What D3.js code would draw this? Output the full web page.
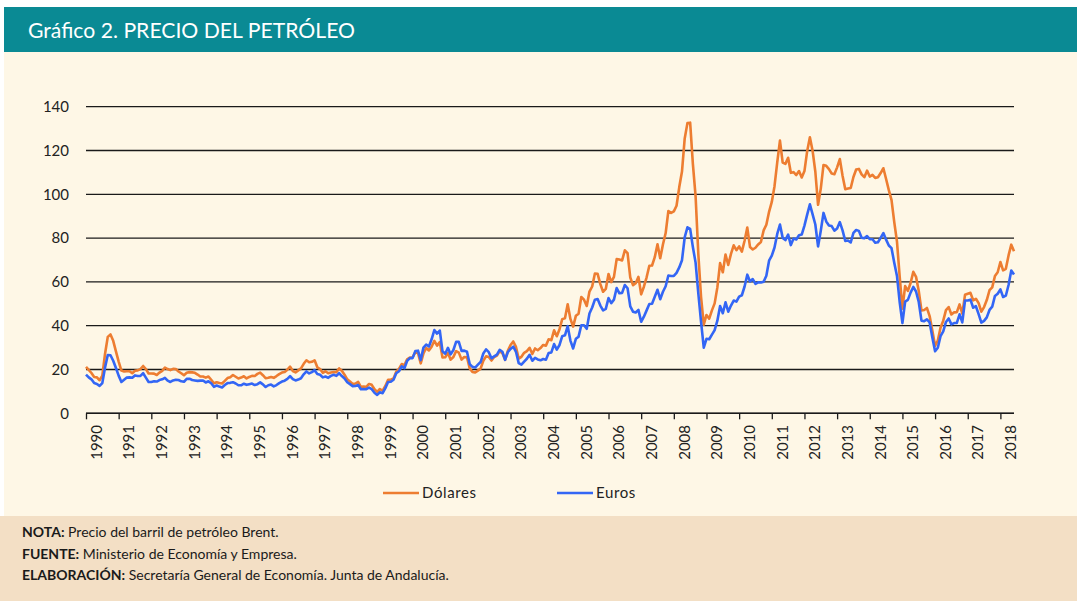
<!DOCTYPE html>
<html>
<head>
<meta charset="utf-8">
<script src="https://cdn.jsdelivr.net/npm/d3@7"></script>
<style>
    body { margin: 0; background: #fff; }
    svg { display: block; }
    text { font-family: Lato, "Open Sans", sans-serif; }
</style>
</head>
<body>
<div class="chart"></div>
<script>
// Precio del barril Brent, media mensual, ene-1990 a jun-2018
var firstYear = 1990;
var lastYear = 2018;

var dolares = [
    21.2, 19.8, 18.4, 16.6, 16.4, 15.1, 17.2, 27.2, 34.9, 36.0, 33.1, 28.3, // 1990
    23.6, 19.5, 19.1, 19.2, 19.2, 18.3, 19.4, 19.6, 20.2, 21.6, 20.2, 18.2, // 1991
    18.2, 18.1, 17.5, 18.6, 19.4, 20.9, 20.2, 19.7, 20.3, 20.2, 19.1, 18.3, // 1992
    17.4, 18.5, 18.8, 18.7, 18.5, 17.7, 16.8, 16.8, 16.3, 16.8, 15.3, 13.7, // 1993
    14.2, 13.8, 13.6, 14.8, 16.1, 16.5, 17.5, 16.7, 15.9, 16.3, 16.9, 15.9, // 1994
    16.6, 17.1, 17.0, 18.0, 18.6, 17.4, 16.0, 16.2, 16.6, 16.2, 17.0, 17.9, // 1995
    18.6, 18.9, 19.9, 21.3, 19.3, 18.7, 19.6, 20.5, 22.6, 24.2, 23.3, 23.5, // 1996
    24.2, 21.0, 20.2, 18.5, 19.2, 18.3, 18.6, 18.8, 18.8, 20.5, 19.4, 17.6, // 1997
    15.5, 14.5, 13.4, 13.6, 14.3, 12.1, 12.2, 12.1, 13.4, 13.0, 11.0, 9.8,  // 1998
    11.1, 10.3, 12.5, 15.3, 15.3, 15.9, 19.0, 20.3, 22.5, 22.0, 24.6, 25.5, // 1999
    25.5, 27.8, 27.5, 22.8, 27.3, 29.8, 28.7, 30.4, 33.1, 30.9, 32.5, 25.5, // 2000
    25.6, 27.5, 24.5, 25.7, 28.4, 27.7, 24.5, 25.7, 25.6, 20.5, 18.9, 18.6, // 2001
    19.5, 20.4, 24.0, 26.0, 25.7, 24.1, 25.7, 26.3, 28.4, 27.5, 24.4, 28.5, // 2002
    31.2, 32.8, 30.3, 25.0, 25.8, 27.6, 28.4, 29.9, 27.1, 29.6, 28.8, 29.8, // 2003
    31.2, 30.9, 33.8, 33.4, 37.9, 35.2, 38.4, 43.0, 43.4, 49.8, 43.1, 39.6, // 2004
    44.5, 45.5, 53.1, 51.9, 49.0, 55.6, 57.9, 63.8, 63.7, 59.0, 55.5, 56.8, // 2005
    63.6, 59.9, 62.3, 70.4, 70.2, 69.8, 74.4, 73.1, 62.0, 58.5, 59.4, 62.3, // 2006
    54.3, 57.8, 62.1, 67.4, 67.5, 71.3, 77.2, 70.8, 77.1, 82.3, 92.4, 91.5, // 2007
    92.2, 94.8, 103.3, 110.4, 125.5, 132.5, 132.7, 113.9, 99.1, 72.8, 53.2, 40.5, // 2008
    44.9, 43.2, 47.0, 50.2, 57.5, 68.6, 64.4, 72.5, 67.7, 72.8, 76.7, 74.5, // 2009
    76.2, 73.8, 78.8, 84.8, 75.9, 74.8, 75.6, 77.1, 78.2, 83.5, 86.1, 92.0, // 2010
    96.5, 103.7, 114.6, 124.5, 114.5, 113.9, 116.7, 109.8, 110.1, 108.8, 110.6, 107.7, // 2011
    110.6, 119.7, 126.0, 119.8, 110.3, 95.2, 102.6, 113.4, 113.0, 111.5, 109.5, 109.2, // 2012
    112.3, 116.1, 108.5, 102.3, 102.6, 102.9, 107.9, 111.3, 111.6, 109.1, 107.8, 110.8, // 2013
    108.1, 108.9, 107.5, 107.8, 109.7, 111.9, 107.0, 101.9, 97.3, 87.3, 78.4, 62.3, // 2014
    47.8, 58.1, 55.9, 59.5, 64.6, 62.3, 55.9, 47.0, 47.2, 48.1, 44.4, 37.7, // 2015
    30.8, 33.2, 39.1, 42.3, 47.1, 48.5, 45.1, 46.1, 46.2, 49.7, 45.5, 54.1, // 2016
    54.6, 55.0, 51.6, 52.3, 50.3, 46.4, 48.5, 51.7, 56.2, 57.5, 62.7, 64.4, // 2017
    69.1, 65.3, 66.0, 72.1, 77.0, 74.0                                      // 2018
];

var euros = [
    17.7, 16.4, 15.5, 13.8, 13.4, 12.5, 13.8, 20.9, 26.6, 26.5, 24.0, 20.7, // 1990
    17.2, 14.3, 15.3, 16.3, 16.4, 16.2, 17.3, 17.0, 17.1, 18.3, 16.3, 14.3, // 1991
    14.3, 14.6, 14.5, 15.2, 15.5, 16.2, 14.9, 14.3, 15.0, 15.3, 15.2, 14.6, // 1992
    14.4, 15.7, 15.8, 15.2, 15.0, 14.8, 14.9, 15.0, 14.1, 14.6, 13.7, 12.1, // 1993
    12.7, 12.2, 11.8, 12.9, 13.8, 13.9, 14.2, 13.6, 12.8, 12.8, 13.5, 13.0, // 1994
    13.3, 13.6, 12.9, 13.3, 14.1, 13.2, 12.0, 12.8, 13.1, 12.3, 12.9, 13.8, // 1995
    14.5, 14.9, 15.7, 17.0, 15.6, 15.0, 15.4, 16.0, 17.8, 19.1, 18.2, 18.8, // 1996
    19.7, 17.9, 17.6, 16.4, 16.8, 16.2, 17.1, 17.6, 17.1, 18.3, 17.0, 15.9, // 1997
    14.2, 13.3, 12.4, 12.5, 12.9, 11.0, 11.1, 11.0, 11.7, 11.0, 9.4, 8.4,   // 1998
    9.6, 9.2, 11.5, 14.3, 14.4, 15.3, 18.3, 19.2, 21.4, 20.6, 23.9, 25.2,   // 1999
    25.2, 28.4, 28.6, 24.3, 30.0, 31.4, 30.5, 33.8, 38.0, 36.4, 37.8, 28.3, // 2000
    27.2, 29.9, 26.9, 28.9, 32.6, 32.6, 28.5, 28.6, 28.1, 22.5, 21.2, 20.9, // 2001
    22.2, 23.4, 27.3, 29.2, 27.9, 25.1, 26.0, 26.8, 29.0, 28.1, 24.4, 27.9, // 2002
    29.4, 30.4, 28.1, 22.9, 22.2, 23.6, 24.9, 26.7, 24.0, 25.3, 24.6, 24.2, // 2003
    24.8, 24.5, 27.5, 27.8, 31.6, 29.1, 31.2, 35.2, 35.6, 39.8, 33.2, 29.6, // 2004
    34.0, 35.0, 40.2, 40.2, 38.6, 45.6, 48.3, 51.9, 52.2, 49.2, 47.0, 47.7, // 2005
    52.6, 50.3, 51.9, 57.2, 54.8, 55.0, 58.6, 57.1, 48.8, 46.4, 46.0, 47.2, // 2006
    41.8, 44.1, 47.0, 49.9, 50.0, 53.2, 56.4, 52.1, 55.5, 58.0, 62.9, 62.7, // 2007
    62.7, 64.1, 66.6, 69.9, 80.4, 84.9, 84.2, 75.9, 68.8, 54.7, 41.9, 30.0, // 2008
    34.0, 33.8, 35.9, 38.0, 42.3, 49.0, 45.7, 50.7, 46.4, 49.2, 51.5, 51.0, // 2009
    53.3, 53.9, 57.9, 63.3, 60.2, 61.3, 59.1, 59.8, 59.7, 60.1, 62.8, 69.7, // 2010
    72.0, 75.7, 81.9, 86.2, 80.1, 79.1, 81.6, 76.8, 79.8, 79.4, 81.3, 81.6, // 2011
    85.7, 90.7, 95.4, 90.8, 86.2, 76.2, 83.4, 91.5, 87.6, 85.8, 85.5, 83.4, // 2012
    84.4, 87.3, 83.5, 78.7, 78.9, 78.0, 82.4, 83.7, 83.3, 80.2, 79.9, 80.9, // 2013
    79.5, 79.5, 77.9, 78.1, 80.1, 82.3, 79.3, 76.6, 75.4, 68.7, 62.7, 50.7, // 2014
    41.2, 51.0, 51.8, 55.1, 57.7, 55.6, 50.8, 42.3, 42.1, 42.9, 41.5, 34.6, // 2015
    28.3, 29.9, 35.2, 37.4, 41.7, 43.3, 40.6, 41.2, 41.3, 45.2, 41.5, 51.5, // 2016
    51.5, 51.9, 48.2, 48.9, 45.3, 41.4, 42.2, 43.8, 47.2, 48.7, 53.6, 54.6, // 2017
    56.6, 53.1, 53.7, 58.6, 65.2, 63.4                                      // 2018
];

var yTicks = [0, 20, 40, 60, 80, 100, 120, 140];
var series = [
    { name: "Dólares", values: dolares, color: "#ed7d31" },
    { name: "Euros", values: euros, color: "#3366f5" }
];

var years = d3.range(firstYear, lastYear + 1);

var width = 1077,
    height = 601;

var svg = d3.select(".chart")
    .append("svg")
    .attr("width", width)
    .attr("height", height);

// Paneles de fondo
svg.append("rect")
    .attr("x", 4).attr("y", 7)
    .attr("width", width - 4).attr("height", 45)
    .attr("fill", "#0a8a94");

svg.append("rect")
    .attr("x", 4).attr("y", 52)
    .attr("width", width - 4).attr("height", 464)
    .attr("fill", "#fef7e6");

svg.append("rect")
    .attr("x", 0).attr("y", 516)
    .attr("width", width).attr("height", height - 516)
    .attr("fill", "#f3dfc5");

svg.append("text")
    .attr("x", 28)
    .attr("y", 38)
    .attr("fill", "#fff")
    .attr("textLength", 327)
    .attr("lengthAdjust", "spacingAndGlyphs")
    .style("font-size", "22px")
    .text("Gráfico 2. PRECIO DEL PETRÓLEO");

// Escalas
var margin = { left: 86, right: 1014, top: 106.7, bottom: 413.3 };

var xScale = d3.scaleLinear()
    .domain([0, dolares.length - 1])
    .range([margin.left, margin.right]);

var yScale = d3.scaleLinear()
    .domain([0, 140])
    .range([margin.bottom, margin.top]);

// Rejilla horizontal
svg.append("g")
    .selectAll("line")
    .data(yTicks)
    .enter()
    .append("line")
    .attr("x1", margin.left)
    .attr("x2", margin.right)
    .attr("y1", function (d) { return yScale(d); })
    .attr("y2", function (d) { return yScale(d); })
    .attr("stroke", "#1a1a1a")
    .attr("stroke-width", 1.3);

// Eje Y
var yAxis = d3.axisLeft(yScale)
    .tickValues(yTicks)
    .tickSize(0)
    .tickPadding(17);

svg.append("g")
    .attr("transform", "translate(" + margin.left + ",0)")
    .call(yAxis)
    .call(function (g) { g.select(".domain").remove(); })
    .selectAll("text")
    .attr("fill", "#222")
    .style("font-family", "Lato, sans-serif")
    .style("font-size", "15px");

// Eje X: marcas en enero de cada año
var yearIdx = years.map(function (y) { return (y - firstYear) * 12; });

var xAxis = d3.axisBottom(xScale)
    .tickValues(yearIdx)
    .tickSize(6)
    .tickFormat("");

svg.append("g")
    .attr("transform", "translate(0," + margin.bottom + ")")
    .call(xAxis)
    .call(function (g) {
        g.select(".domain")
            .attr("d", "M" + margin.left + ",0H" + margin.right)
            .attr("stroke", "#1a1a1a")
            .attr("stroke-width", 1.5);
        g.selectAll(".tick line").attr("stroke", "#1a1a1a").attr("stroke-width", 1.3);
    });

svg.append("g")
    .selectAll("text")
    .data(years)
    .enter()
    .append("text")
    .attr("transform", function (d) {
        return "translate(" + (xScale((d - firstYear) * 12) + 10.5) + ",425) rotate(-90)";
    })
    .attr("dy", "0.35em")
    .attr("text-anchor", "end")
    .attr("fill", "#222")
    .style("font-size", "15px")
    .text(function (d) { return d; });

// Líneas
var line = d3.line()
    .x(function (d, i) { return xScale(i); })
    .y(function (d) { return yScale(d); });

svg.append("g")
    .selectAll("path")
    .data(series)
    .enter()
    .append("path")
    .attr("d", function (d) { return line(d.values); })
    .attr("fill", "none")
    .attr("stroke", function (d) { return d.color; })
    .attr("stroke-width", 2.6)
    .attr("stroke-linejoin", "round");

// Leyenda
var legendX = [383, 557];
var legend = svg.append("g")
    .selectAll("g")
    .data(series)
    .enter()
    .append("g")
    .attr("transform", function (d, i) { return "translate(" + legendX[i] + ",493)"; });

legend.append("line")
    .attr("x1", 0).attr("x2", 36)
    .attr("stroke", function (d) { return d.color; })
    .attr("stroke-width", 2.6);

legend.append("text")
    .attr("x", 39)
    .attr("dy", "0.35em")
    .attr("fill", "#222")
    .style("font-size", "15px")
    .style("letter-spacing", "0.6px")
    .text(function (d) { return d.name; });

// Notas
var notes = [
    ["NOTA:", " Precio del barril de petróleo Brent."],
    ["FUENTE:", " Ministerio de Economía y Empresa."],
    ["ELABORACIÓN:", " Secretaría General de Economía. Junta de Andalucía."]
];

var noteText = svg.append("g")
    .selectAll("text")
    .data(notes)
    .enter()
    .append("text")
    .attr("x", 22)
    .attr("y", function (d, i) { return 537 + i * 21.5; })
    .attr("fill", "#1a1a1a")
    .style("font-size", "14px");

noteText.append("tspan")
    .style("font-weight", "bold")
    .text(function (d) { return d[0]; });

noteText.append("tspan")
    .text(function (d) { return d[1]; });
</script>
</body>
</html>
